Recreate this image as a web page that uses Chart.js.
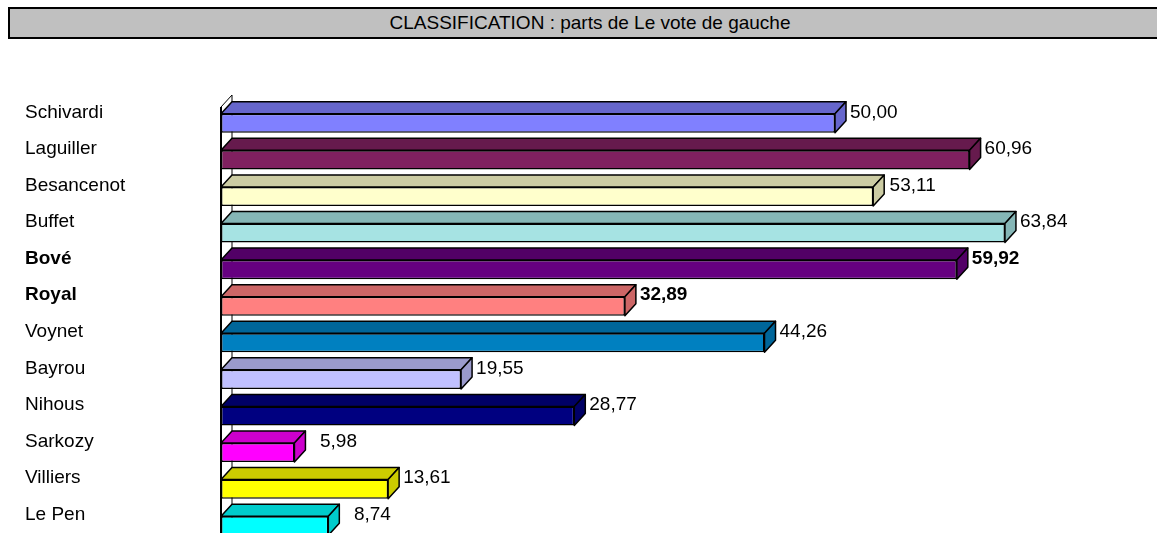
<!DOCTYPE html>
<html>
<head>
<meta charset="utf-8">
<script src="https://cdn.jsdelivr.net/npm/chart.js@4/dist/chart.umd.min.js"></script>
<style>
  html, body { margin: 0; padding: 0; background: #fff; overflow: hidden; }
  #wrap { position: relative; width: 1157px; height: 533px; overflow: hidden; }
  #title {
    position: absolute; left: 8px; top: 7px; width: 1160px; height: 28px; padding-right: 60px;
    background: #C0C0C0; border-top: 2px solid #000; border-left: 2px solid #000; border-bottom: 2px solid #000;
    font-family: 'Liberation Sans', Arial, sans-serif; font-size: 19px; line-height: 28px;
    text-align: center; color: #000; box-sizing: content-box;
  }
  #box { position: absolute; left: 0; top: 0; width: 1157px; height: 560px; }
</style>
</head>
<body>
<div id="wrap">
  <div id="box"><canvas id="chart"></canvas></div>
  <div id="title">CLASSIFICATION : parts de Le vote de gauche</div>
</div>
<script>
// data
const candidates = ["Schivardi", "Laguiller", "Besancenot", "Buffet", "Bové", "Royal",
  "Voynet", "Bayrou", "Nihous", "Sarkozy", "Villiers", "Le Pen"];
const shares = [50.00, 60.96, 53.11, 63.84, 59.92, 32.89, 44.26, 19.55, 28.77, 5.98, 13.61, 8.74];
const barColors = ["#8080FF", "#802060", "#FFFFCC", "#A6E3E3", "#660080", "#FF8080",
  "#0080C0", "#C0C0FF", "#000080", "#FF00FF", "#FFFF00", "#00FFFF"];
const boldNames = ["Bové", "Royal"];

const FONT = "'Liberation Sans', Arial, sans-serif";
const DX = 11, DY = 12; // depth of the 3d effect

const darker = (hex, f) => {
  const n = parseInt(hex.slice(1), 16);
  const r = Math.round(((n >> 16) & 255) * f);
  const g = Math.round(((n >> 8) & 255) * f);
  const b = Math.round((n & 255) * f);
  return `rgb(${r},${g},${b})`;
};

const fmt = (v) => v.toFixed(2).replace('.', ',');

// left wall of the 3d plot, behind the bars
const wallPlugin = {
  id: 'wall',
  beforeDatasetsDraw(chart) {
    const {ctx, chartArea} = chart;
    const x = chartArea.left, top = chartArea.top + 2, bottom = chartArea.bottom;
    ctx.save();
    ctx.beginPath();
    ctx.moveTo(x, bottom);
    ctx.lineTo(x, top);
    ctx.lineTo(x + DX, top - DY);
    ctx.lineTo(x + DX, bottom);
    ctx.closePath();
    ctx.fillStyle = '#fff';
    ctx.fill();
    ctx.strokeStyle = '#000';
    ctx.lineWidth = 1;
    ctx.stroke();
    ctx.lineWidth = 2;
    ctx.beginPath();
    ctx.moveTo(x, top);
    ctx.lineTo(x, bottom);
    ctx.stroke();
    ctx.restore();
  }
};

// top and side faces of each bar + value labels
const depthPlugin = {
  id: 'depth',
  afterDatasetsDraw(chart) {
    const {ctx} = chart;
    const meta = chart.getDatasetMeta(0);
    ctx.save();
    ctx.strokeStyle = '#000';
    ctx.lineWidth = 1.5;
    ctx.lineJoin = 'round';
    meta.data.forEach((bar, i) => {
      const {x, y, base, height} = bar.getProps(['x', 'y', 'base', 'height'], true);
      const t = y - height / 2, b = y + height / 2;
      const shade = darker(barColors[i], 0.8);
      // top face
      ctx.beginPath();
      ctx.moveTo(base, t);
      ctx.lineTo(base + DX, t - DY);
      ctx.lineTo(x + DX, t - DY);
      ctx.lineTo(x, t);
      ctx.closePath();
      ctx.fillStyle = shade;
      ctx.fill();
      ctx.stroke();
      // side face
      ctx.beginPath();
      ctx.moveTo(x, t);
      ctx.lineTo(x + DX, t - DY);
      ctx.lineTo(x + DX, b - DY);
      ctx.lineTo(x, b);
      ctx.closePath();
      ctx.fill();
      ctx.stroke();

      // value label, right aligned in a "00,00" wide box
      const bold = boldNames.includes(candidates[i]);
      ctx.font = `${bold ? 'bold ' : ''}19px ${FONT}`;
      const boxW = ctx.measureText('00,00').width;
      ctx.fillStyle = '#000';
      ctx.textAlign = 'right';
      ctx.textBaseline = 'middle';
      ctx.fillText(fmt(shares[i]), x + DX + 4 + boxW, y - 11);
    });
    ctx.restore();
  }
};

const chart = new Chart(document.getElementById('chart'), {
  type: 'bar',
  data: {
    labels: candidates,
    datasets: [{
      data: shares,
      backgroundColor: barColors,
      borderColor: '#000',
      borderWidth: 1.5,
      borderSkipped: false,
      categoryPercentage: 1,
      barPercentage: 0.52
    }]
  },
  options: {
    indexAxis: 'y',
    responsive: true,
    maintainAspectRatio: false,
    animation: false,
    layout: { padding: { top: 105, bottom: 16, left: 25, right: 15 } },
    plugins: { legend: { display: false }, title: { display: false }, tooltip: { enabled: false } },
    scales: {
      x: { display: false, min: 0, max: 75 },
      y: {
        grid: { display: false, drawTicks: false },
        border: { display: false },
        afterFit: (scale) => { scale.width = 196; },
        ticks: {
          crossAlign: 'far',
          labelOffset: -11,
          color: '#000',
          font: (c) => ({
            family: FONT,
            size: 19,
            weight: c.tick && boldNames.includes(c.tick.label) ? 'bold' : 'normal'
          })
        }
      }
    }
  },
  plugins: [wallPlugin, depthPlugin]
});
</script>
</body>
</html>
